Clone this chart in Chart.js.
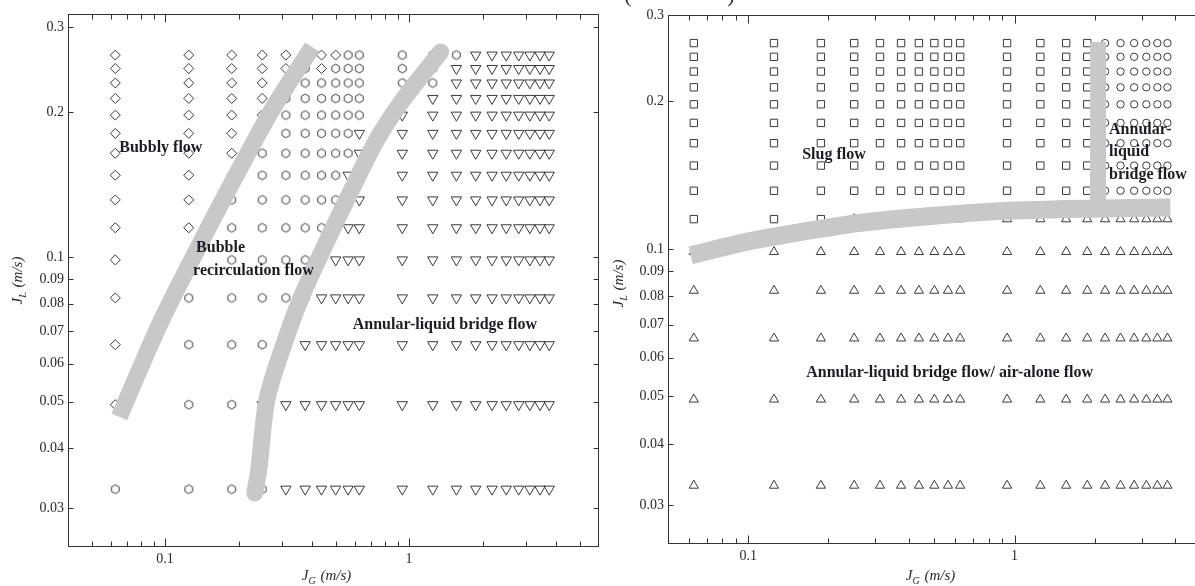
<!DOCTYPE html>
<html>
<head>
<meta charset="utf-8">
<script src="https://cdn.jsdelivr.net/npm/chart.js@4.4.1/dist/chart.umd.min.js"></script>
<style>
  html, body { margin:0; padding:0; background:#ffffff; width:1195px; height:586px; overflow:hidden; }
  canvas { position:absolute; top:0; }
  #leftChart { left:0; }
  #rightChart { left:600px; }
</style>
</head>
<body>
<canvas id="leftChart" width="606" height="586"></canvas>
<canvas id="rightChart" width="607" height="586"></canvas>
<script>
// ---------------- data ----------------
// superficial gas velocities (columns of the test matrix), m/s
const JG = [0.0625, 0.125, 0.1875, 0.25, 0.3125, 0.375, 0.4375, 0.5, 0.5625, 0.625,
            0.9375, 1.25, 1.5625, 1.875, 2.1875, 2.5, 2.8125, 3.125, 3.4375, 3.75];
// superficial liquid velocities (rows, bottom to top), m/s
const JL = [0.0329, 0.0493, 0.0657, 0.0822, 0.0986, 0.1150, 0.1314, 0.1479,
            0.1643, 0.1807, 0.1972, 0.2136, 0.2300, 0.2465, 0.2629];

// left map: one string per JL row, one char per JG column
// D = bubbly flow, H = bubble recirculation flow, V = annular-liquid bridge flow
const leftRegimes = [
  "HHHHVVVVVVVVVVVVVVVV",
  "DHHVVVVVVVVVVVVVVVVV",
  "DHHHHVVVVVVVVVVVVVVV",
  "DHHHHHVVVVVVVVVVVVVV",
  "DHHHHHVVVVVVVVVVVVVV",
  "DDHHHHHHVVVVVVVVVVVV",
  "DDHHHHHHVVVVVVVVVVVV",
  "DDDHHHHHVVVVVVVVVVVV",
  "DDDHHHHHHVVVVVVVVVVV",
  "DDDHHHHHHVVVVVVVVVVV",
  "DDDDHHHHHHVVVVVVVVVV",
  "DDDDHHHHHHHVVVVVVVVV",
  "DDDDDHHHHHHHVVVVVVVV",
  "DDDDDHDHHHHHVVVVVVVV",
  "DDDDDDDDHHHHHVVVVVVV"
];
// right map: S = slug flow, C = annular-liquid bridge flow, T = annular-liquid bridge / air-alone flow
const rightRegimes = [
  "TTTTTTTTTTTTTTTTTTTT",
  "TTTTTTTTTTTTTTTTTTTT",
  "TTTTTTTTTTTTTTTTTTTT",
  "TTTTTTTTTTTTTTTTTTTT",
  "TTTTTTTTTTTTTTTTTTTT",
  "SSSTTTTTTTTTTTTTTTTT",
  "SSSSSSSSSSSSSSCCCCCC",
  "SSSSSSSSSSSSSSCCCCCC",
  "SSSSSSSSSSSSSSCCCCCC",
  "SSSSSSSSSSSSSSCCCCCC",
  "SSSSSSSSSSSSSSCCCCCC",
  "SSSSSSSSSSSSSSCCCCCC",
  "SSSSSSSSSSSSSSCCCCCC",
  "SSSSSSSSSSSSSSCCCCCC",
  "SSSSSSSSSSSSSSCCCCCC"
];

// transition boundaries (thick grey bands)
const leftB1JG = [0.0649, 0.0960, 0.1474, 0.2058, 0.2819, 0.4012];
const leftB1JL = [0.0465, 0.0733, 0.1127, 0.1554, 0.2070, 0.2732];
const leftB2JG = [0.2330, 0.2420, 0.2612, 0.3013, 0.3578, 0.4628, 0.6221, 0.7527, 0.9553, 1.3463];
const leftB2JL = [0.0323, 0.0361, 0.0504, 0.0641, 0.0814, 0.1085, 0.1481, 0.1785, 0.2140, 0.2668];
const rightBHJG = [0.0608, 0.1015, 0.1568, 0.2642, 0.4857, 0.893, 1.953, 3.849];
const rightBHJL = [0.0971, 0.1037, 0.1082, 0.1130, 0.1167, 0.1194, 0.1208, 0.1214];
const rightBVJG = [2.058, 2.058];
const rightBVJL = [0.2643, 0.1214];

// ticks
const xTicksLeft  = [0.05,0.06,0.07,0.08,0.09,0.1,0.2,0.3,0.4,0.5,0.6,0.7,0.8,0.9,1,2,3,4,5];
const xTicksRight = [0.06,0.07,0.08,0.09,0.1,0.2,0.3,0.4,0.5,0.6,0.7,0.8,0.9,1,2,3,4];
const xLabelValues = [0.1, 1];
const xLabelTexts  = ['0.1', '1'];
const yTickValues = [0.03, 0.04, 0.05, 0.06, 0.07, 0.08, 0.09, 0.1, 0.2, 0.3];
const yTickTexts  = ['0.03','0.04','0.05','0.06','0.07','0.08','0.09','0.1','0.2','0.3'];

// regime labels
const leftNotes   = ['Bubbly flow', 'Bubble', 'recirculation flow', 'Annular-liquid bridge flow'];
const leftNoteJG  = [0.0649, 0.1340, 0.1302, 0.5871];
const leftNoteJL  = [0.1685, 0.1044, 0.0935, 0.0722];
const rightNotes  = ['Slug flow', 'Annular-', 'liquid', 'bridge flow', 'Annular-liquid bridge flow/ air-alone flow'];
const rightNoteJG = [0.1595, 2.264, 2.264, 2.264, 0.1651];
const rightNoteJL = [0.1554, 0.1748, 0.1576, 0.1415, 0.0558];

// ---------------- styling ----------------
const SERIF = '"Liberation Serif", "DejaVu Serif", serif';
const MARK = '#3a3a3a';
const BAND = 'rgb(200,200,200)';
const AXIS = '#333333';
const TEXT = '#2a2a2a';
const NOTE = '#1c1c24';

function hexagonCanvas(r) {
  const s = Math.ceil(2 * r + 4);
  const c = document.createElement('canvas');
  c.width = s; c.height = s;
  const g = c.getContext('2d');
  g.strokeStyle = MARK; g.lineWidth = 1;
  g.beginPath();
  for (let i = 0; i < 6; i++) {
    const a = -Math.PI / 2 + i * Math.PI / 3;
    const px = s / 2 + r * Math.cos(a), py = s / 2 + r * Math.sin(a);
    if (i) g.lineTo(px, py); else g.moveTo(px, py);
  }
  g.closePath(); g.stroke();
  return c;
}

function regimePoints(map, ch) {
  const pts = [];
  map.forEach((row, r) => {
    for (let c = 0; c < row.length; c++) if (row[c] === ch) pts.push({ x: JG[c], y: JL[r] });
  });
  return pts;
}
function markerSet(data, style, radius, rotation) {
  return { data, pointStyle: style, pointRadius: radius, pointRotation: rotation || 0,
    pointBorderColor: MARK, pointBackgroundColor: 'rgba(0,0,0,0)', pointBorderWidth: 1,
    showLine: false, order: 2 };
}
function bandSet(xs, ys, width, cap, tension) {
  return { data: xs.map((x, i) => ({ x, y: ys[i] })), showLine: true, borderColor: BAND,
    borderWidth: width, borderCapStyle: cap, borderJoinStyle: 'miter', pointRadius: 0,
    tension: tension, fill: false, order: 1 };
}

function makeScales(xmin, xmax, ymin, ymax, xTicks, yw, xh) {
  return {
    x: { type: 'logarithmic', min: xmin, max: xmax, position: 'bottom',
      grid: { display: false, drawTicks: false }, border: { display: false },
      afterBuildTicks: s => { s.ticks = xTicks.map(v => ({ value: v })); },
      afterFit: s => { s.height = xh; },
      ticks: { autoSkip: false, maxRotation: 0, minRotation: 0, padding: 4, color: TEXT,
        font: { family: SERIF, size: 14 },
        callback: v => { const i = xLabelValues.indexOf(v); return i >= 0 ? xLabelTexts[i] : ''; } } },
    y: { type: 'logarithmic', min: ymin, max: ymax, position: 'left',
      grid: { display: false, drawTicks: false }, border: { display: false },
      afterBuildTicks: s => { s.ticks = yTickValues.map(v => ({ value: v })); },
      afterFit: s => { s.width = yw; },
      ticks: { autoSkip: false, padding: 4, color: TEXT, font: { family: SERIF, size: 14 },
        callback: v => { const i = yTickValues.indexOf(v); return i >= 0 ? yTickTexts[i] : ''; } } }
  };
}

function drawTitle(ctx, cx, base, main, sub, rest) {
  const f1 = 'italic 15px ' + SERIF, f2 = 'italic 10px ' + SERIF;
  ctx.font = f1; const w1 = ctx.measureText(main).width, w3 = ctx.measureText(rest).width;
  ctx.font = f2; const w2 = ctx.measureText(sub).width;
  let x = cx - (w1 + w2 + w3) / 2;
  ctx.textAlign = 'left'; ctx.textBaseline = 'alphabetic';
  ctx.font = f1; ctx.fillText(main, x, base); x += w1;
  ctx.font = f2; ctx.fillText(sub, x, base + 4); x += w2 + 1;
  ctx.font = f1; ctx.fillText(rest, x, base);
}

const decor = {
  id: 'decor',
  afterDraw(chart, args, o) {
    const { ctx, chartArea: a } = chart;
    const xs = chart.scales.x, ys = chart.scales.y;
    ctx.save();
    ctx.strokeStyle = AXIS; ctx.lineWidth = 1;
    const L = Math.round(a.left) + 0.5, R = Math.round(a.right) - 0.5;
    const T = Math.round(a.top) + 0.5, B = Math.round(a.bottom) - 0.5;
    ctx.strokeRect(L, T, R - L, B - T);
    ctx.beginPath();
    o.xTicks.forEach(v => {
      const px = Math.round(xs.getPixelForValue(v)) + 0.5;
      const len = xLabelValues.includes(v) ? 8 : 5;
      ctx.moveTo(px, B); ctx.lineTo(px, B - len);
      ctx.moveTo(px, T); ctx.lineTo(px, T + len);
    });
    yTickValues.forEach(v => {
      const py = Math.round(ys.getPixelForValue(v)) + 0.5;
      ctx.moveTo(L, py); ctx.lineTo(L + 5, py);
      ctx.moveTo(R, py); ctx.lineTo(R - 5, py);
    });
    ctx.stroke();

    ctx.fillStyle = NOTE; ctx.font = 'bold 16px ' + SERIF;
    ctx.textBaseline = 'middle'; ctx.textAlign = 'left';
    o.notes.forEach((t, i) => ctx.fillText(t, xs.getPixelForValue(o.noteX[i]), ys.getPixelForValue(o.noteY[i])));

    ctx.fillStyle = TEXT;
    drawTitle(ctx, o.xTitle[0], o.xTitle[1], 'J', 'G', ' (m/s)');
    ctx.save();
    ctx.translate(o.yTitle[0], o.yTitle[1]);
    ctx.rotate(-Math.PI / 2);
    drawTitle(ctx, 0, 5, 'J', 'L', ' (m/s)');
    ctx.restore();

    if (o.extra) {
      ctx.font = '22px ' + SERIF; ctx.textBaseline = 'alphabetic'; ctx.textAlign = 'center';
      o.extra.forEach(e => ctx.fillText(e[0], e[1], e[2]));
    }
    ctx.restore();
  }
};

const common = { responsive: false, animation: false, events: [], devicePixelRatio: 1 };

// ---------------- left panel ----------------
new Chart(document.getElementById('leftChart'), {
  type: 'scatter',
  data: { datasets: [
    bandSet(leftB1JG, leftB1JL, 17, 'butt', 0.3),
    bandSet(leftB2JG, leftB2JL, 17, 'round', 0.3),
    markerSet(regimePoints(leftRegimes, 'D'), 'rectRot', 5),
    markerSet(regimePoints(leftRegimes, 'H'), hexagonCanvas(4.4), 5),
    markerSet(regimePoints(leftRegimes, 'V'), 'triangle', 6, 180)
  ] },
  options: Object.assign({}, common, {
    layout: { padding: { left: 0, right: 0, top: 14, bottom: 0 } },
    scales: makeScales(0.04, 6, 0.025, 0.32, xTicksLeft, 68, 39.5),
    plugins: { legend: { display: false }, tooltip: { enabled: false },
      decor: { xTicks: xTicksLeft, notes: leftNotes, noteX: leftNoteJG, noteY: leftNoteJL,
        xTitle: [326, 580], yTitle: [17, 281] } }
  }),
  plugins: [decor]
});

// ---------------- right panel ----------------
new Chart(document.getElementById('rightChart'), {
  type: 'scatter',
  data: { datasets: [
    bandSet(rightBHJG, rightBHJL, 18, 'butt', 0.3),
    bandSet(rightBVJG, rightBVJL, 16, 'butt', 0),
    markerSet(regimePoints(rightRegimes, 'S'), 'rect', 5.2),
    markerSet(regimePoints(rightRegimes, 'C'), 'circle', 3.7),
    markerSet(regimePoints(rightRegimes, 'T'), 'triangle', 5.3)
  ] },
  options: Object.assign({}, common, {
    layout: { padding: { left: 0, right: 0, top: 15, bottom: 0 } },
    scales: makeScales(0.05, 5, 0.025, 0.3, xTicksRight, 68, 42),
    plugins: { legend: { display: false }, tooltip: { enabled: false },
      decor: { xTicks: xTicksRight, notes: rightNotes, noteX: rightNoteJG, noteY: rightNoteJL,
        xTitle: [330, 580], yTitle: [18, 284], extra: [['(', 28, 2], [')', 131, 2]] } }
  }),
  plugins: [decor]
});
</script>
</body>
</html>
